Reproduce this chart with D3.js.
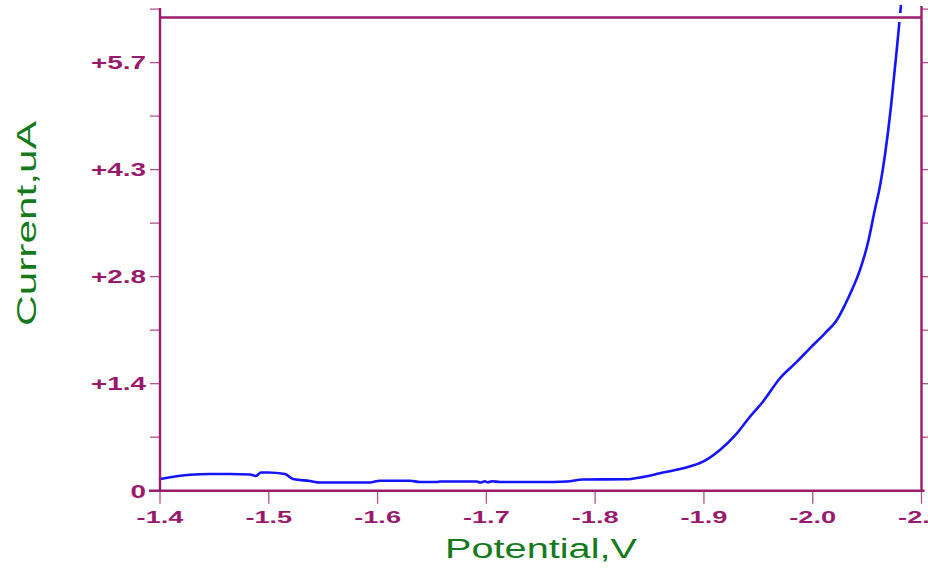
<!DOCTYPE html>
<html>
<head>
<meta charset="utf-8">
<script src="https://cdn.jsdelivr.net/npm/d3@7/dist/d3.min.js"></script>
<style>
  html, body { margin: 0; padding: 0; background: #ffffff; }
  svg { display: block; }
</style>
</head>
<body>
<svg id="chart" width="928" height="569"></svg>
<script>
// Linear sweep voltammogram: potential (V) vs. current (uA)
const potential = [
  -1.400, -1.4138, -1.4276, -1.446, -1.4643, -1.4827, -1.4882, -1.4928, -1.4993,
  -1.5149, -1.5222, -1.5379, -1.5471, -1.593, -1.6022, -1.6298, -1.639, -1.6546,
  -1.6574, -1.6914, -1.6941, -1.6987, -1.7015, -1.7051, -1.7125, -1.7493, -1.7741,
  -1.7888, -1.8292, -1.8412, -1.8596, -1.8807, -1.8991, -1.9147, -1.9303, -1.9423,
  -1.9542, -1.9699, -1.9855, -1.9974, -2.0112, -2.0222, -2.0296, -2.036, -2.0434,
  -2.0507, -2.0572, -2.0618, -2.0664, -2.0691, -2.0719, -2.0746, -2.0774, -2.0797,
  -2.0811
];
const current = [
  0.156, 0.189, 0.213, 0.222, 0.222, 0.216, 0.196, 0.242, 0.242,
  0.222, 0.156, 0.129, 0.109, 0.109, 0.133, 0.133, 0.116, 0.116,
  0.123, 0.123, 0.109, 0.125, 0.112, 0.125, 0.116, 0.116, 0.123,
  0.149, 0.152, 0.176, 0.232, 0.298, 0.386, 0.542, 0.764, 0.985,
  1.185, 1.497, 1.718, 1.896, 2.096, 2.273, 2.473, 2.672, 2.938,
  3.298, 3.748, 4.054, 4.470, 4.763, 5.109, 5.495, 5.894, 6.241,
  6.454
];

const xTicks = [-1.4, -1.5, -1.6, -1.7, -1.8, -1.9, -2.0, -2.1];
const xTickLabels = ["-1.4", "-1.5", "-1.6", "-1.7", "-1.8", "-1.9", "-2.0", "-2.1"];
const yTicks = [0, 0.7125, 1.425, 2.1375, 2.85, 3.5625, 4.275, 4.9875, 5.7, 6.4125];
const yTickLabels = ["0", "", "+1.4", "", "+2.8", "", "+4.3", "", "+5.7", ""];

const xTitle = "Potential,V";
const yTitle = "Current,uA";

const AXIS = "#9a1d6c";
const TICK = "#b2508f";
const LABEL = "#991a6c";
const TITLE = "#167a1c";
const LINE = "#1414ff";

const svg = d3.select("#chart");

const x = d3.scaleLinear().domain([-1.4, -2.1]).range([160, 921.5]);
const y = d3.scaleLinear().domain([0, 6.4125]).range([490.7, 9.1]);
const frameTop = y(6.3);

// current trace
const line = d3.line()
  .x((d, i) => x(potential[i]))
  .y((d, i) => y(current[i]))
  .curve(d3.curveMonotoneX);

svg.append("path")
  .datum(current)
  .attr("d", line)
  .attr("fill", "none")
  .attr("stroke", LINE)
  .attr("stroke-width", 2.6)
  .attr("stroke-linejoin", "round")
  .attr("stroke-linecap", "round");

// white knockout beneath the top border
svg.append("line")
  .attr("x1", x(-1.4)).attr("x2", x(-2.1))
  .attr("y1", frameTop).attr("y2", frameTop)
  .attr("stroke", "#ffffff").attr("stroke-width", 9);

// left axis ticks
svg.append("g").selectAll("line").data(yTicks).join("line")
  .attr("x1", x(-1.4) - 10).attr("x2", x(-1.4))
  .attr("y1", d => y(d)).attr("y2", d => y(d))
  .attr("stroke", TICK).attr("stroke-width", 1.3);

// right axis ticks
svg.append("g").selectAll("line").data(yTicks.slice(1)).join("line")
  .attr("x1", x(-2.1)).attr("x2", x(-2.1) + 8)
  .attr("y1", d => y(d)).attr("y2", d => y(d))
  .attr("stroke", TICK).attr("stroke-width", 1.3);

// bottom axis ticks
svg.append("g").selectAll("line").data(xTicks).join("line")
  .attr("x1", d => x(d)).attr("x2", d => x(d))
  .attr("y1", y(0)).attr("y2", y(0) + 13)
  .attr("stroke", TICK).attr("stroke-width", 1.3);

// frame and axis lines
const frame = svg.append("g")
  .attr("stroke", AXIS).attr("stroke-width", 2.4).attr("fill", "none");
frame.append("line")
  .attr("x1", x(-1.4)).attr("x2", x(-2.1))
  .attr("y1", frameTop).attr("y2", frameTop);
frame.append("line")
  .attr("x1", x(-1.4)).attr("x2", x(-1.4))
  .attr("y1", y(6.4125) - 1).attr("y2", y(0));
frame.append("line")
  .attr("x1", x(-2.1)).attr("x2", x(-2.1))
  .attr("y1", y(6.4125) - 3).attr("y2", y(0));
frame.append("line")
  .attr("x1", x(-1.4) - 11).attr("x2", x(-2.1) + 3)
  .attr("y1", y(0)).attr("y2", y(0));

// y tick labels
svg.append("g").selectAll("text").data(yTicks).join("text")
  .attr("transform", d => `translate(${x(-1.4) - 14},${y(d) + 6.8}) scale(1.55,1)`)
  .attr("text-anchor", "end")
  .attr("font-family", "'Liberation Sans', Arial, sans-serif")
  .attr("font-weight", "bold")
  .attr("font-size", 18)
  .attr("fill", LABEL)
  .text((d, i) => yTickLabels[i]);

// x tick labels
svg.append("g").selectAll("text").data(xTicks).join("text")
  .attr("transform", d => `translate(${x(d)},${y(0) + 32.5}) scale(1.7,1)`)
  .attr("text-anchor", "middle")
  .attr("font-family", "'Liberation Sans', Arial, sans-serif")
  .attr("font-weight", "bold")
  .attr("font-size", 16)
  .attr("fill", LABEL)
  .text((d, i) => xTickLabels[i]);

// axis titles
svg.append("text")
  .attr("transform", `translate(541,558) scale(1.47,1)`)
  .attr("text-anchor", "middle")
  .attr("font-family", "'Liberation Sans', Arial, sans-serif")
  .attr("font-size", 27)
  .attr("fill", TITLE)
  .text(xTitle);

svg.append("text")
  .attr("transform", `translate(36,223.5) rotate(-90) scale(1.57,1)`)
  .attr("text-anchor", "middle")
  .attr("font-family", "'Liberation Sans', Arial, sans-serif")
  .attr("font-size", 27)
  .attr("fill", TITLE)
  .text(yTitle);
</script>
</body>
</html>
